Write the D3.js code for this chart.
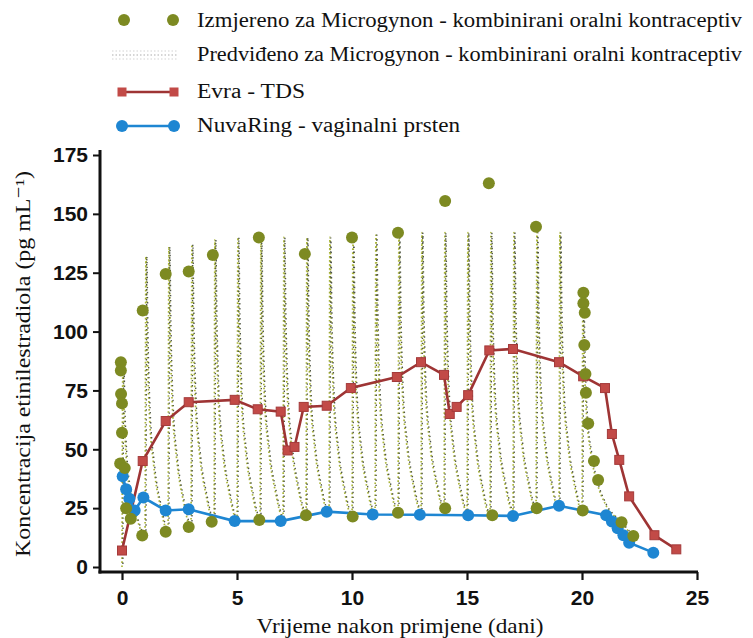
<!DOCTYPE html>
<html><head><meta charset="utf-8">
<script src="https://cdn.jsdelivr.net/npm/d3@7"></script>
<style>body{margin:0;background:#fff}svg{display:block}
.serif{font-family:'Liberation Serif','DejaVu Serif','Times New Roman',Times,serif}
.sans{font-family:'Liberation Sans',Arial,Helvetica,sans-serif}</style>
</head><body><svg id="c" width="753" height="638"></svg>
<script>
// ---- data ----
const xTicks = [0, 5, 10, 15, 20, 25];
const yTicks = [0, 25, 50, 75, 100, 125, 150, 175];

// Evra - TDS
const evraDays = [0, 0.9, 1.9, 2.9, 4.9, 5.9, 6.9, 7.2, 7.5, 7.9, 8.9, 9.95, 11.95, 13.0, 14.0, 14.25, 14.55, 15.05, 15.97, 17.0, 19.0, 20.05, 21.0, 21.3, 21.62, 22.05, 23.15, 24.1];
const evraVals = [7, 45, 62, 70, 71, 67, 66, 49.5, 51, 68, 68.5, 76, 80.7, 87, 81.6, 65, 68, 73, 92, 92.6, 87, 81, 76, 56.5, 45.5, 30, 13.5, 7.5];

// NuvaRing - vaginalni prsten
const nuvaDays = [0.03, 0.18, 0.32, 0.55, 0.93, 1.9, 2.9, 4.9, 6.9, 8.9, 10.9, 12.95, 15.05, 17.0, 19.0, 21.05, 21.3, 21.55, 21.8, 22.05, 23.1];
const nuvaVals = [38.5, 33, 29, 24, 29.5, 24, 24.5, 19.5, 19.5, 23.5, 22.3, 22.2, 22, 21.7, 26, 22, 19.3, 16.5, 13.5, 10.3, 6.1];

// Izmjereno za Microgynon (measured)
const measDays = [-0.05, -0.05, -0.04, 0, 0, -0.08, 0.12, 0.18, 0.38, 0.88,
  0.9, 1.9, 2.9, 3.95, 5.95, 7.95, 10, 12, 14.05, 15.95, 18,
  1.9, 2.9, 3.9, 5.97, 8.0, 10.03, 12.0, 14.05, 16.1, 18.03, 20.03,
  20.06, 20.06, 20.12, 20.1, 20.15, 20.17, 20.27, 20.52, 20.7, 21.72, 22.23];
const measVals = [87, 83.5, 73.5, 69.5, 57, 44, 42, 25, 20.5, 13.4,
  109, 124.5, 125.5, 132.5, 140, 133, 140, 142, 155.5, 163, 144.5,
  15, 17, 19.2, 20, 22, 21.4, 23, 25, 22, 25, 24,
  116.5, 112, 108, 94.3, 82, 74, 61, 45, 37, 19, 13.2];

// Predviđeno za Microgynon (predicted): one dose per day
const predDoseDays = [0, 1, 2, 3, 4, 5, 6, 7, 8, 9, 10, 11, 12, 13, 14, 15, 16, 17, 18, 19, 20];
const predPeaks    = [88, 132, 136, 137, 139, 140, 140, 140, 140, 140, 140, 141, 142, 142, 142, 142, 142, 142, 142, 142, 117];
const predTroughs  = [0, 13, 15, 17, 19, 20, 20, 21, 22, 22, 21.5, 22, 23, 23.5, 24.5, 23.5, 22, 23.5, 24.5, 24.5, 24];
const predDecayOffsets = [0.04, 0.09, 0.18, 0.38, 0.65, 1.0];
const predDecayShare   = [1, 0.72, 0.45, 0.24, 0.1, 0];
const predEndTrough = 27;
const predTailDays = [21.7, 22.2];
const predTailVals = [19, 13];

// ---- drawing ----
const svg = d3.select('#c');
const x = d3.scaleLinear().domain([0, 25]).range([122, 697]);
const y = d3.scaleLinear().domain([0, 175]).range([567, 155]);

const OLIVE = '#7d8a22', RED_L = '#9e3434', RED_F = '#c24a47', BLUE = '#1e86d2';

// predicted series points
const pred = [];
predDoseDays.forEach((d, i) => {
  const last = i === predDoseDays.length - 1;
  const nt = last ? predEndTrough : predTroughs[i + 1];
  pred.push([d, predTroughs[i]]);
  predDecayOffsets.forEach((o, k) => {
    if (!last && k === predDecayOffsets.length - 1) return;
    pred.push([d + o, nt + (predPeaks[i] - nt) * predDecayShare[k]]);
  });
});
predTailDays.forEach((d, i) => pred.push([d, predTailVals[i]]));

const predLine = d3.line().x(p => x(p[0])).y(p => y(p[1])).curve(d3.curveMonotoneX);
svg.append('path').attr('d', predLine(pred)).attr('fill', 'none')
  .attr('stroke', '#a9b437').attr('stroke-width', 1.7).attr('stroke-dasharray', '1.6,2.4');
svg.append('path').attr('d', predLine(pred)).attr('fill', 'none')
  .attr('stroke', '#4f5548').attr('stroke-width', 1.4).attr('stroke-dasharray', '1.4,3.6').attr('stroke-dashoffset', 2)
  .attr('transform', 'translate(0.9,0)');

// Evra line
const evra = evraDays.map((d, i) => [d, evraVals[i]]);
const lin = d3.line().x(p => x(p[0])).y(p => y(p[1]));
svg.append('path').attr('d', lin(evra)).attr('fill', 'none').attr('stroke', RED_L).attr('stroke-width', 2.6);
svg.append('g').selectAll('rect').data(evra).join('rect')
  .attr('x', p => x(p[0]) - 4.5).attr('y', p => y(p[1]) - 4.5).attr('width', 9).attr('height', 9)
  .attr('fill', RED_F).attr('stroke', '#a43a3a').attr('stroke-width', 1);

// NuvaRing line
const nuva = nuvaDays.map((d, i) => [d, nuvaVals[i]]);
svg.append('path').attr('d', lin(nuva)).attr('fill', 'none').attr('stroke', BLUE).attr('stroke-width', 2.6);
svg.append('g').selectAll('circle').data(nuva).join('circle')
  .attr('cx', p => x(p[0])).attr('cy', p => y(p[1])).attr('r', 6).attr('fill', BLUE);

// measured
const meas = measDays.map((d, i) => [d, measVals[i]]);
svg.append('g').selectAll('circle').data(meas).join('circle')
  .attr('cx', p => x(p[0])).attr('cy', p => y(p[1])).attr('r', 6).attr('fill', OLIVE);

// axes
const yAx = svg.append('g').attr('transform', 'translate(100,0)')
  .call(d3.axisLeft(y).tickValues(yTicks).tickSize(7).tickPadding(5));
yAx.attr('font-family', null).attr('font-size', null);
yAx.select('.domain').remove();
yAx.selectAll('line').attr('stroke', '#111').attr('stroke-width', 2);
yAx.selectAll('text').attr('class', 'sans').style('font-weight', 'bold').style('font-size', '21px').attr('fill', '#111');

const xAx = svg.append('g').attr('transform', 'translate(0,572)')
  .call(d3.axisBottom(x).tickValues(xTicks).tickSize(8).tickPadding(10));
xAx.attr('font-family', null).attr('font-size', null);
xAx.select('.domain').remove();
xAx.selectAll('line').attr('stroke', '#111').attr('stroke-width', 2.2);
xAx.selectAll('text').attr('class', 'sans').style('font-weight', 'bold').style('font-size', '21px').attr('fill', '#111');

svg.append('line').attr('x1', 100).attr('x2', 100).attr('y1', y(175) - 5).attr('y2', 573.5)
  .attr('stroke', '#111').attr('stroke-width', 3);
svg.append('line').attr('x1', 98.5).attr('x2', x(25) + 1).attr('y1', 572).attr('y2', 572)
  .attr('stroke', '#111').attr('stroke-width', 3);

// axis titles
svg.append('text').attr('class', 'serif').attr('x', 400).attr('y', 633).attr('text-anchor', 'middle')
  .style('font-size', '22px').attr('fill', '#111')
  .attr('textLength', 287).attr('lengthAdjust', 'spacingAndGlyphs')
  .text('Vrijeme nakon primjene (dani)');
svg.append('text').attr('class', 'serif').attr('transform', 'translate(30,364) rotate(-90)').attr('text-anchor', 'middle')
  .style('font-size', '22px').attr('fill', '#111')
  .attr('textLength', 386).attr('lengthAdjust', 'spacingAndGlyphs')
  .text('Koncentracija etinilestradiola (pg mL⁻¹)');

// legend
const lg = svg.append('g');
lg.append('circle').attr('cx', 124).attr('cy', 20).attr('r', 6).attr('fill', OLIVE);
lg.append('circle').attr('cx', 173).attr('cy', 20).attr('r', 6).attr('fill', OLIVE);
[51, 55, 59].forEach((yy, i) => lg.append('line').attr('x1', 112).attr('x2', 178).attr('y1', yy).attr('y2', yy)
  .attr('stroke', i === 1 ? '#c8c8c8' : '#e2e2e2').attr('stroke-width', 1.5).attr('stroke-dasharray', '1.5,2'));
lg.append('line').attr('x1', 122).attr('x2', 174).attr('y1', 92).attr('y2', 92).attr('stroke', RED_L).attr('stroke-width', 2.6);
[122, 174].forEach(cx => lg.append('rect').attr('x', cx - 4.5).attr('y', 87.5).attr('width', 9).attr('height', 9).attr('fill', RED_F));
lg.append('line').attr('x1', 122).attr('x2', 174).attr('y1', 126).attr('y2', 126).attr('stroke', BLUE).attr('stroke-width', 2.6);
[122, 174].forEach(cx => lg.append('circle').attr('cx', cx).attr('cy', 126).attr('r', 6).attr('fill', BLUE));

const legTexts = [
  ['Izmjereno za Microgynon - kombinirani oralni kontraceptiv', 27, 545],
  ['Predviđeno za Microgynon - kombinirani oralni kontraceptiv', 61, 545],
  ['Evra - TDS', 98, 108],
  ['NuvaRing - vaginalni prsten', 132, 263]
];
legTexts.forEach(t => lg.append('text').attr('class', 'serif').attr('x', 197).attr('y', t[1])
  .style('font-size', '20px').attr('fill', '#111')
  .attr('textLength', t[2]).attr('lengthAdjust', 'spacingAndGlyphs').text(t[0]));
</script>
</body></html>
